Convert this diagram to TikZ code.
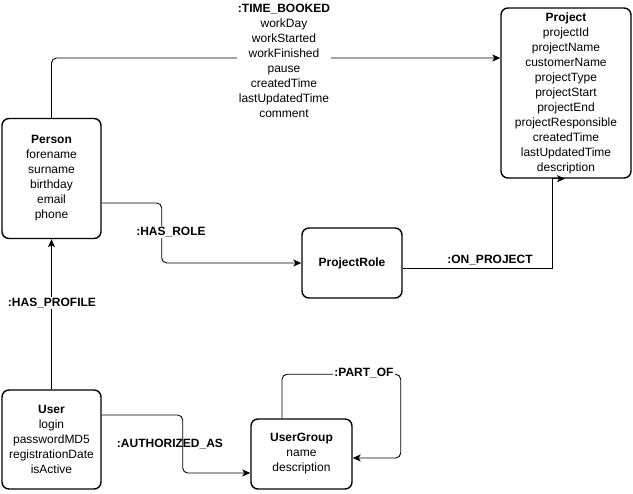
\documentclass[tikz,border=0pt]{standalone}
\usepackage{fontspec}
\setmainfont{Liberation Sans}
\usetikzlibrary{arrows.meta}
\begin{document}
\begin{tikzpicture}[x=1pt,y=-1pt,font=\fontsize{12}{15}\selectfont,
		entity/.style={draw,line width=1.4pt,rounded corners=7pt,align=center,inner sep=0},
		rel/.style={line width=0.9pt,-{Stealth[length=8pt,width=7pt,inset=2pt]}},
		tag/.style={fill=white,inner sep=1pt,align=center,font=\fontsize{12}{15}\selectfont\bfseries}]
		\useasboundingbox (0,0) rectangle (633,494);
		\node[entity,minimum width=99pt,minimum height=120pt] (person) at (51.5,178.5) {\textbf{Person}\\forename\\surname\\birthday\\email\\phone};
		\node[entity,minimum width=130pt,minimum height=170pt] (project) at (566,93) {\textbf{Project}\\projectId\\projectName\\customerName\\projectType\\projectStart\\projectEnd\\projectResponsible\\createdTime\\lastUpdatedTime\\description};
		\node[entity,minimum width=100pt,minimum height=70pt] (role) at (352,263) {\textbf{ProjectRole}};
		\node[entity,minimum width=99pt,minimum height=99pt] (user) at (51.5,439.5) {\textbf{User}\\login\\passwordMD5\\registrationDate\\isActive};
		\node[entity,minimum width=101pt,minimum height=70pt] (group) at (301.5,454) {\textbf{UserGroup}\\name\\description};
		\draw[rel,rounded corners=5pt] (person.north) |- ([yshift=35pt]project.west);
		\node[tag,font=\fontsize{12}{15}\selectfont] (booked) at (284,60.5) {\textbf{:TIME\_BOOKED}\\workDay\\workStarted\\workFinished\\pause\\createdTime\\lastUpdatedTime\\comment};
		\draw[rel,rounded corners=5pt] ([yshift=-24.5pt]person.east) -- ++(60,0) |- (role.west);
		\node[tag] (hasrole) at (171,232) {:HAS\_ROLE};
		\draw[rel] ([yshift=-5pt]role.east) -| ([xshift=-14pt]project.south) -- ([xshift=-1pt]project.south);
		\node[tag,inner ysep=3pt] (onproject) at (490,260) {:ON\_PROJECT};
		\draw[rel] (user.north) -- (person.south);
		\node[tag] (profile) at (52,303) {:HAS\_PROFILE};
		\draw[rel,rounded corners=5pt] ([yshift=24.5pt]user.east) -- ++(81,0) |- ([yshift=-19pt]group.west);
		\node[tag,fill=none] (authorized) at (170,444) {:AUTHORIZED\_AS};
		\draw[rel,rounded corners=5pt] ([xshift=-19.5pt]group.north) -- ++(0,-44) -| ([xshift=48pt,yshift=-4pt]group.east) -- ([yshift=-4pt]group.east);
		\node[tag] (partof) at (364,373) {:PART\_OF};
	\end{tikzpicture}
\end{document}
